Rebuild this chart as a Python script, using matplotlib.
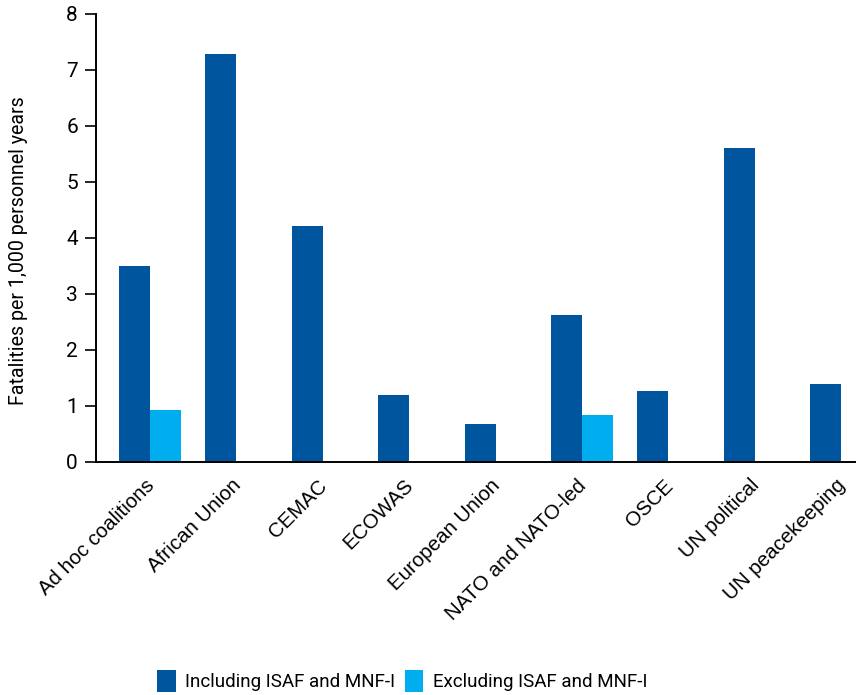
import matplotlib
matplotlib.use("Agg")
import matplotlib.pyplot as plt
import numpy as np
from matplotlib.patches import Patch

categories = ["Ad hoc coalitions", "African Union", "CEMAC", "ECOWAS", "European Union",
              "NATO and NATO-led", "OSCE", "UN political", "UN peacekeeping"]
including = [3.50, 7.28, 4.22, 1.20, 0.67, 2.63, 1.27, 5.60, 1.40]
excluding = [0.93, 0, 0, 0, 0, 0.83, 0, 0, 0]
series_names = ["Including ISAF and MNF-I", "Excluding ISAF and MNF-I"]
yticks = [0, 1, 2, 3, 4, 5, 6, 7, 8]

c_dark = "#00559F"
c_light = "#00AEEF"

fig = plt.figure(figsize=(8.56, 6.95), dpi=100)
ax = fig.add_axes([0.1121, 0.3353, 0.8867, 0.6446])

x = np.arange(len(categories))
w = 0.359
ax.bar(x, including, width=w, color=c_dark, align="center")
ax.bar(x + w, excluding, width=w, color=c_light, align="center")

ax.set_xlim(-0.446, 8.34)
ax.set_ylim(0, 8)
ax.set_yticks(yticks)
ax.set_yticklabels([str(t) for t in yticks], fontfamily="Roboto", fontsize=15)
ax.set_xticks(x + 0.12)
ax.set_xticklabels(categories, rotation=45, ha="right", rotation_mode="anchor",
                   fontfamily="Liberation Sans", fontsize=14.8)
ax.tick_params(axis="x", length=0, pad=10)
ax.tick_params(axis="y", direction="out", length=8, width=1.2, pad=5)
for s in ["top", "right"]:
    ax.spines[s].set_visible(False)
for s in ["left", "bottom"]:
    ax.spines[s].set_linewidth(1.4)
    ax.spines[s].set_color("black")

ax.set_ylabel("Fatalities per 1,000 personnel years", fontfamily="Roboto", fontsize=14.1)
ax.yaxis.set_label_coords(-0.0895, 0.471)

handles = [Patch(facecolor=c_dark), Patch(facecolor=c_light)]
fig.legend(handles, series_names, loc="center", bbox_to_anchor=(402/856, 1 - 681/695),
           ncol=2, frameon=False, prop={"family": "Roboto", "size": 13.5},
           handlelength=1.0, handleheight=1.35, handletextpad=0.5, columnspacing=0.5)

fig.savefig("out.png", dpi=100)
